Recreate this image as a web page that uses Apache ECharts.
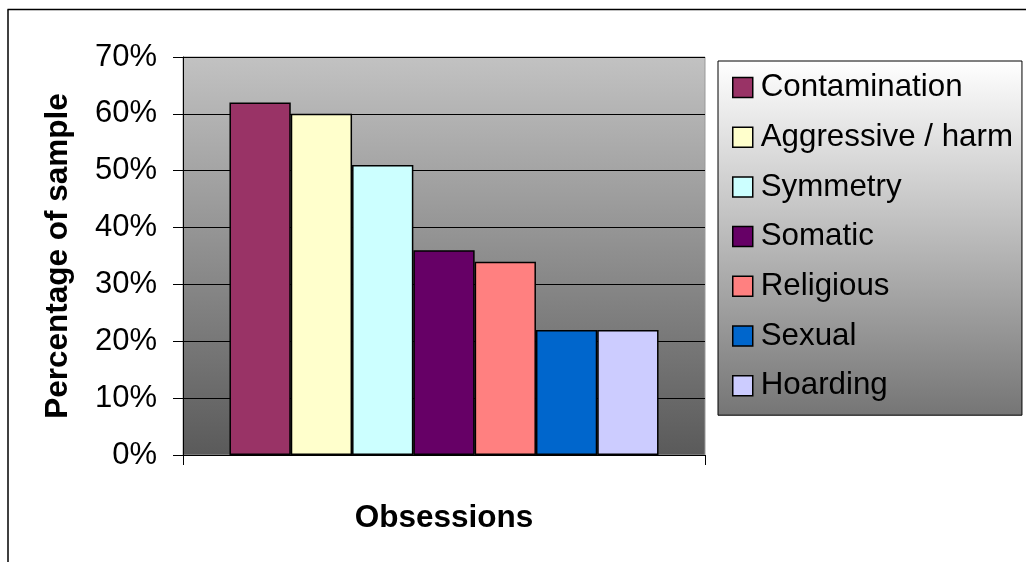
<!DOCTYPE html>
<html>
<head>
<meta charset="utf-8">
<script src="https://cdn.jsdelivr.net/npm/echarts@6/dist/echarts.min.js"></script>
<style>
html,body{margin:0;padding:0;background:#fff;}
#chart{width:1026px;height:562px;}
</style>
</head>
<body>
<div id="chart"></div>
<script>
const seriesNames = ['Contamination', 'Aggressive / harm', 'Symmetry', 'Somatic', 'Religious', 'Sexual', 'Hoarding'];
const seriesValues = [62, 60, 51, 36, 34, 22, 22];
const seriesColors = ['#993366', '#FFFFCC', '#CCFFFF', '#660066', '#FF8080', '#0066CC', '#CCCCFF'];
const category = [''];
const yTicks = { min: 0, max: 70, interval: 10 };

const FONT = '"Liberation Sans", Arial, sans-serif';
const chart = echarts.init(document.getElementById('chart'), null, { renderer: 'canvas' });

const series = seriesNames.map((name, i) => ({
  name: name,
  type: 'bar',
  data: [seriesValues[i]],
  barGap: '0%',
  barCategoryGap: '17.8%',
  itemStyle: { color: seriesColors[i], borderColor: '#000', borderWidth: 1.5 },
  emphasis: { disabled: true },
  animation: false
}));

chart.setOption({
  animation: false,
  backgroundColor: '#fff',
  textStyle: { fontFamily: FONT },
  grid: {
    left: 183, top: 57, width: 522, height: 398,
    show: true,
    borderColor: '#999',
    borderWidth: 1,
    backgroundColor: new echarts.graphic.LinearGradient(0, 0, 0, 1, [
      { offset: 0, color: '#c2c2c2' },
      { offset: 1, color: '#5a5a5a' }
    ])
  },
  xAxis: {
    type: 'category',
    data: category,
    name: 'Obsessions',
    nameLocation: 'middle',
    nameGap: 47,
    nameTextStyle: { fontFamily: FONT, fontSize: 31.5, fontWeight: 'bold', color: '#000' },
    axisLine: { show: true, lineStyle: { color: '#000', width: 1 } },
    axisTick: { show: true, length: 10, lineStyle: { color: '#000' } },
    axisLabel: { show: false },
    splitLine: { show: false }
  },
  yAxis: {
    type: 'value',
    min: yTicks.min, max: yTicks.max, interval: yTicks.interval,
    name: 'Percentage of sample',
    nameLocation: 'middle',
    nameGap: 109,
    nameTextStyle: { fontFamily: FONT, fontSize: 31.5, fontWeight: 'bold', color: '#000' },
    axisLine: { show: true, lineStyle: { color: '#000', width: 1 } },
    axisTick: { show: true, length: 10, lineStyle: { color: '#000' } },
    axisLabel: { formatter: '{value}%', fontFamily: FONT, fontSize: 31, color: '#000', margin: 26 },
    splitLine: { show: true, lineStyle: { color: '#000', width: 1 } }
  },
  legend: {
    orient: 'vertical',
    left: 718, top: 61,
    padding: [11, 9, 14, 14],
    itemWidth: 20, itemHeight: 20,
    itemGap: 18.7,
    icon: 'rect',
    backgroundColor: new echarts.graphic.LinearGradient(0, 0, 0, 1, [
      { offset: 0, color: '#ffffff' },
      { offset: 1, color: '#757575' }
    ]),
    borderColor: '#000', borderWidth: 1,
    textStyle: { fontFamily: FONT, fontSize: 31.3, color: '#000', padding: [0, 0, 0, 3] },
    itemStyle: { borderColor: '#000', borderWidth: 1.5 },
    selectedMode: false,
    data: seriesNames
  },
  graphic: [
    { type: 'line', shape: { x1: 8, y1: 9.5, x2: 8, y2: 562 }, style: { stroke: '#000', lineWidth: 1.5 } },
    { type: 'line', shape: { x1: 7.5, y1: 9.5, x2: 1026, y2: 9.5 }, style: { stroke: '#000', lineWidth: 1.5 } }
  ],
  series: series
});
</script>
</body>
</html>
